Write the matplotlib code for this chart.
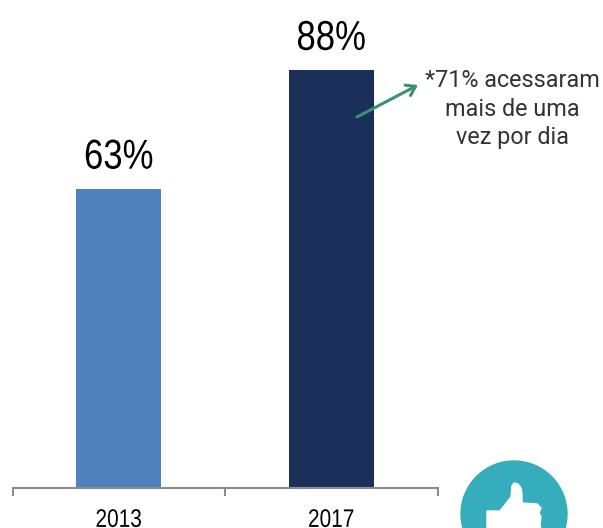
import matplotlib
matplotlib.use("Agg")
import matplotlib.pyplot as plt
from matplotlib.patches import Circle, Polygon, FancyArrowPatch
from matplotlib.patheffects import AbstractPathEffect
from matplotlib.transforms import Affine2D

years = ["2013", "2017"]
values = [63, 88]
labels = ["63%", "88%"]
bar_colors = ["#4f81bd", "#1b2f5b"]
note = "*71% acessaram\nmais de uma\nvez por dia"

W, H = 603, 528


class Tall(AbstractPathEffect):
    # the reference uses a condensed face, so stretch the glyphs upward
    def __init__(self, sy):
        super().__init__()
        self.sy = sy

    def draw_path(self, renderer, gc, tpath, affine, rgbFace=None):
        renderer.draw_path(gc, tpath, Affine2D().scale(1, self.sy) + affine, rgbFace)


fig = plt.figure(figsize=(W / 100, H / 100), dpi=100)
ax = fig.add_axes([12.5 / W, 40 / H, 425 / W, 475 / H])

xpos = range(len(years))
ax.bar(xpos, values, width=0.4, color=bar_colors)
for x, v, lab in zip(xpos, values, labels):
    ax.annotate(lab, (x, v), xytext=(0, 14.5), textcoords='offset points',
                ha='center', va='baseline', fontsize=25,
                family='Liberation Sans', color='black', path_effects=[Tall(1.2)])

ax.set_xlim(-0.5, 1.5)
ax.set_ylim(0, 100)
ax.set_yticks([])
for s in ['top', 'left', 'right']:
    ax.spines[s].set_visible(False)
ax.spines['bottom'].set_color('#8c8c8c')
ax.spines['bottom'].set_linewidth(1.5)

# ticks sit between the categories, labels under the bars
ax.set_xticks([-0.5, 0.5, 1.5])
ax.set_xticklabels([])
ax.tick_params(axis='x', length=6, width=1.5, color='#8c8c8c', direction='out')
for x, y in zip(xpos, years):
    ax.annotate(y, (x, 0), xytext=(0, -28), textcoords='offset points',
                ha='center', va='baseline', fontsize=15,
                family='Liberation Sans', color='black', path_effects=[Tall(1.22)])

# overlay in pixel coordinates for arrow, note and icon
ov = fig.add_axes([0, 0, 1, 1], facecolor='none')
ov.set_xlim(0, W)
ov.set_ylim(H, 0)
ov.axis('off')

ov.add_patch(FancyArrowPatch((357, 117), (418, 85), arrowstyle='->,head_length=4.5,head_width=3',
                             mutation_scale=1.4, color='#3a9270', linewidth=2.2,
                             shrinkA=0, shrinkB=0))
ov.text(512, 109, note, ha='center', va='center', fontsize=16.8, family='Roboto',
        color='#333333', linespacing=1.31)

ov.add_patch(Circle((514, 514), 53, color='#35adbd', clip_on=True))
thumb = [(487, 511), (500, 511), (511, 497), (512, 486), (514, 483), (518, 484),
         (521, 488), (522, 494), (522, 503), (537, 504), (541, 508), (539, 513), (541, 517),
         (540, 524), (541, 530), (487, 530)]
ov.add_patch(Polygon(thumb, closed=True, color='white'))

fig.savefig("out.png", dpi=100)
